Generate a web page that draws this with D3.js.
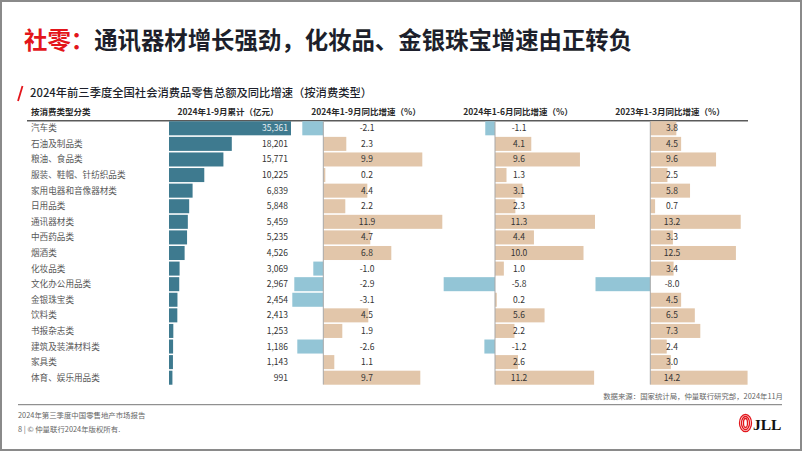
<!DOCTYPE html>
<html><head><meta charset="utf-8">
<script src="https://cdn.jsdelivr.net/npm/d3@7/dist/d3.min.js"></script>
<style>
html,body{margin:0;padding:0;background:#fff;}
svg{display:block;font-family:"Noto Sans CJK SC","Noto Sans",sans-serif;}
</style></head>
<body>
<svg id="c" width="802" height="451"></svg>
<script>
const categories = ["汽车类","石油及制品类","粮油、食品类","服装、鞋帽、针纺织品类","家用电器和音像器材类","日用品类","通讯器材类","中西药品类","烟酒类","化妆品类","文化办公用品类","金银珠宝类","饮料类","书报杂志类","建筑及装潢材料类","家具类","体育、娱乐用品类"];
const cumulative = [35361,18201,15771,10225,6839,5848,5459,5235,4526,3069,2967,2454,2413,1253,1186,1143,991];
const growth9 = [-2.1,2.3,9.9,0.2,4.4,2.2,11.9,4.7,6.8,-1.0,-2.9,-3.1,4.5,1.9,-2.6,1.1,9.7];
const growth6 = [-1.1,4.1,9.6,1.3,3.1,2.3,11.3,4.4,10.0,1.0,-5.8,0.2,5.6,2.2,-1.2,2.6,11.2];
const growth3 = [3.8,4.5,9.6,2.5,5.8,0.7,13.2,3.3,12.5,3.4,-8.0,4.5,6.5,7.3,2.4,3.0,14.2];
const headers = ["按消费类型分类","2024年1-9月累计（亿元）","2024年1-9月同比增速（%）","2024年1-6月同比增速（%）","2023年1-3月同比增速（%）"];

const svg = d3.select("#c");
const C_DARK = "#3e7a8f", C_NEG = "#93c5d6", C_POS = "#e2c6aa";
const locale = d3.formatLocale({decimal:".", thousands:",", grouping:[3], currency:["",""], minus:"-"});

// frame
svg.append("rect").attr("x",1).attr("y",1).attr("width",800).attr("height",449)
  .attr("fill","#fff").attr("stroke","#8a8a8a").attr("stroke-width",2);

// title
const t = svg.append("text").attr("x",24).attr("y",49).attr("font-size",23.4).attr("font-weight",700);
t.append("tspan").attr("fill","#e3151b").text("社零：");
t.append("tspan").attr("fill","#1d1f2b").text("通讯器材增长强劲，化妆品、金银珠宝增速由正转负");

// subtitle
svg.append("line").attr("x1",18).attr("y1",101).attr("x2",22.5).attr("y2",86)
  .attr("stroke","#e3151b").attr("stroke-width",1.8);
svg.append("text").attr("x",30).attr("y",97).attr("font-size",11.3).attr("font-weight",500)
  .attr("fill","#1d1f2b").text("2024年前三季度全国社会消费品零售总额及同比增速（按消费类型）");

// scales
const y = d3.scaleBand().domain(categories).range([120.5, 385.5]).paddingInner(0.1).paddingOuter(0.05);
const xCum = d3.scaleLinear().domain([0, 35361]).range([169, 291]);
const x9 = d3.scaleLinear().domain([0, 10]).range([323.3, 423.3]);
const x6 = d3.scaleLinear().domain([0, 10]).range([495, 583.5]);
const x3 = d3.scaleLinear().domain([0, 10]).range([650.3, 718.8]);

// headers
const hx = [31, 228, 366, 518, 670];
headers.forEach((h,i)=>{
  svg.append("text").attr("x",hx[i]).attr("y",114.5).attr("font-size",8.5).attr("font-weight",700)
    .attr("fill","#2a2a2a").attr("text-anchor", i===0 ? "start" : "middle").text(h);
});
svg.append("line").attr("x1",27).attr("x2",748).attr("y1",120.7).attr("y2",120.7)
  .attr("stroke","#5a5a5a").attr("stroke-width",1.5);

// category labels
svg.append("g").selectAll("text").data(categories).join("text")
  .attr("x",31).attr("y",d=>y(d)+y.bandwidth()/2).attr("dy","0.35em")
  .attr("font-size",8.6).attr("fill","#595959").text(d=>d);

// cumulative bars
const fmtC = locale.format(",");
const gC = svg.append("g");
gC.selectAll("rect").data(cumulative).join("rect")
  .attr("x",xCum(0)).attr("y",(d,i)=>y(categories[i]))
  .attr("width",d=>xCum(d)-xCum(0)).attr("height",y.bandwidth()).attr("fill",C_DARK);
gC.selectAll("text").data(cumulative).join("text")
  .attr("x",288).attr("y",(d,i)=>y(categories[i])+y.bandwidth()/2).attr("dy","0.35em")
  .attr("text-anchor","end").attr("font-size",8.5)
  .attr("fill",d=> xCum(d) > 262 ? "#e8eef2" : "#333").text(d=>fmtC(d));

// growth columns
const fmtG = locale.format(".1f");
function growthCol(vals, x, labelX){
  const g = svg.append("g");
  g.selectAll("rect").data(vals).join("rect")
    .attr("x",d=>Math.min(x(0),x(d))).attr("y",(d,i)=>y(categories[i]))
    .attr("width",d=>Math.abs(x(d)-x(0))).attr("height",y.bandwidth())
    .attr("fill",d=>d<0?C_NEG:C_POS);
  g.append("line").attr("x1",x(0)).attr("x2",x(0)).attr("y1",121.5).attr("y2",384.5)
    .attr("stroke","#a8a8a8").attr("stroke-width",1);
  g.selectAll("text").data(vals).join("text")
    .attr("x",labelX).attr("y",(d,i)=>y(categories[i])+y.bandwidth()/2).attr("dy","0.35em")
    .attr("text-anchor","middle").attr("font-size",8.5).attr("fill","#333").text(d=>fmtG(d));
}
growthCol(growth9, x9, 367);
growthCol(growth6, x6, 519);
growthCol(growth3, x3, 672);

// source
svg.append("text").attr("x",783).attr("y",399).attr("text-anchor","end").attr("font-size",7.4)
  .attr("fill","#666").text("数据来源：国家统计局，仲量联行研究部，2024年11月");

// footer
svg.append("line").attr("x1",18).attr("x2",782).attr("y1",404.7).attr("y2",404.7)
  .attr("stroke","#777").attr("stroke-width",1);
svg.append("text").attr("x",18).attr("y",417.5).attr("font-size",7.4).attr("fill","#666")
  .text("2024年第三季度中国零售地产市场报告");
svg.append("text").attr("x",18).attr("y",431.5).attr("font-size",7.4).attr("fill","#666")
  .text("8 | © 仲量联行2024年版权所有.");

// logo
const lg = svg.append("g");
[[6,8.5],[4,6.5],[2,4.5]].forEach(([rx,ry])=>{
  lg.append("ellipse").attr("cx",745.5).attr("cy",423).attr("rx",rx).attr("ry",ry)
    .attr("fill","none").attr("stroke","#e3151b").attr("stroke-width",1.3);
});
lg.append("text").attr("x",753).attr("y",429.5).attr("font-family","'Liberation Serif',serif")
  .attr("font-weight",700).attr("font-size",15.5).attr("fill","#111").text("JLL");
</script>
</body></html>
